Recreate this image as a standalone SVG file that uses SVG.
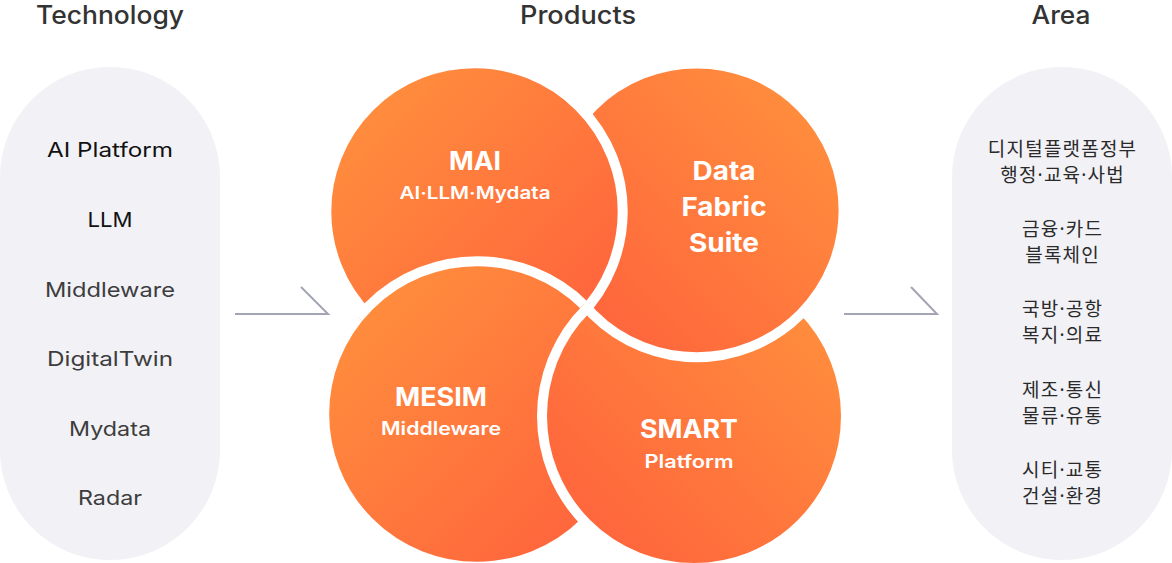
<svg xmlns="http://www.w3.org/2000/svg" xmlns:xlink="http://www.w3.org/1999/xlink" width="1172" height="563" viewBox="0 0 1172 563">
  <style>
    .hdr { font-family: Inter, "Noto Sans", "Liberation Sans", sans-serif; font-size: 25px; font-weight: 500; fill: #333333; text-anchor: middle; }
    .tech { font-family: Inter, "Noto Sans", "Liberation Sans", sans-serif; font-size: 20px; font-weight: 400; fill: #3d3d3d; text-anchor: middle; }
    .tech.dark { fill: #111111; }
    .area { font-family: "Noto Sans CJK KR", "Noto Sans", sans-serif; font-size: 19px; letter-spacing: 1.2px; font-weight: 400; fill: #2a2a2a; text-anchor: middle; }
    .dot { font-family: "Noto Sans", "Liberation Sans", sans-serif; }
    .pill { fill: #f1f1f6; }
    .petal { stroke: #ffffff; stroke-width: 10; }
    .ttl { font-family: Inter, "Noto Sans", "Liberation Sans", sans-serif; font-size: 26px; font-weight: 700; fill: #ffffff; text-anchor: middle; }
    .sub { font-family: Inter, "Noto Sans", "Liberation Sans", sans-serif; font-size: 18px; font-weight: 600; fill: #ffffff; text-anchor: middle; }
    .conn { fill: none; stroke: #a3a5b4; stroke-width: 2; }
  </style>
  <defs>
    <linearGradient id="gTL" x1="0.15" y1="0.15" x2="0.85" y2="0.85">
      <stop offset="0" stop-color="#ff8c3d"/>
      <stop offset="1" stop-color="#ff663c"/>
    </linearGradient>
    <linearGradient id="gTR" x1="0.85" y1="0.15" x2="0.15" y2="0.85">
      <stop offset="0" stop-color="#ff8c3d"/>
      <stop offset="1" stop-color="#ff663c"/>
    </linearGradient>
    <circle id="c-mesim" class="petal" cx="477" cy="414" r="152.8" fill="url(#gTL)"/>
    <clipPath id="clipMai">
      <circle cx="474.5" cy="211.5" r="157"/>
    </clipPath>
    <clipPath id="clipNotSmart">
      <path clip-rule="evenodd" d="M0 0H1172V563H0Z M537 416a157 157 0 1 0 314 0a157 157 0 1 0 -314 0Z"/>
    </clipPath>
  </defs>

  <rect width="1172" height="563" fill="#ffffff"/>

  <g id="headers">
    <text class="hdr" x="110" y="24" textLength="148" lengthAdjust="spacingAndGlyphs">Technology</text>
    <text class="hdr" x="578" y="24" textLength="116" lengthAdjust="spacingAndGlyphs">Products</text>
    <text class="hdr" x="1061" y="24" textLength="59" lengthAdjust="spacingAndGlyphs">Area</text>
  </g>

  <g id="node-technology">
    <rect class="pill" x="0" y="67" width="220" height="493" rx="110"/>
    <text class="tech dark" x="110" y="157" textLength="126" lengthAdjust="spacingAndGlyphs">AI Platform</text>
    <text class="tech dark" x="110" y="227" textLength="45" lengthAdjust="spacingAndGlyphs">LLM</text>
    <text class="tech" x="110" y="297" textLength="130" lengthAdjust="spacingAndGlyphs">Middleware</text>
    <text class="tech" x="110" y="366" textLength="126" lengthAdjust="spacingAndGlyphs">DigitalTwin</text>
    <text class="tech" x="110" y="436" textLength="82" lengthAdjust="spacingAndGlyphs">Mydata</text>
    <text class="tech" x="110" y="505" textLength="64" lengthAdjust="spacingAndGlyphs">Radar</text>
  </g>

  <g id="node-area">
    <rect class="pill" x="952" y="67" width="220" height="493" rx="110"/>
    <text class="area" x="1062.6" y="156">디지털플랫폼정부</text>
    <text class="area" x="1062.6" y="182">행정<tspan class="dot">·</tspan>교육<tspan class="dot">·</tspan>사법</text>
    <text class="area" x="1062.6" y="236">금융<tspan class="dot">·</tspan>카드</text>
    <text class="area" x="1062.6" y="262">블록체인</text>
    <text class="area" x="1062.6" y="316">국방<tspan class="dot">·</tspan>공항</text>
    <text class="area" x="1062.6" y="342">복지<tspan class="dot">·</tspan>의료</text>
    <text class="area" x="1062.6" y="397">제조<tspan class="dot">·</tspan>통신</text>
    <text class="area" x="1062.6" y="423">물류<tspan class="dot">·</tspan>유통</text>
    <text class="area" x="1062.6" y="477">시티<tspan class="dot">·</tspan>교통</text>
    <text class="area" x="1062.6" y="503">건설<tspan class="dot">·</tspan>환경</text>
  </g>

  <g id="connectors">
    <path class="conn" d="M235 314H328L301 287"/>
    <path class="conn" d="M844 314H937L911 287"/>
  </g>

  <g id="node-mesim">
    <use href="#c-mesim"/>
    <text class="ttl" x="441" y="406" textLength="92" lengthAdjust="spacingAndGlyphs">MESIM</text>
    <text class="sub" x="441" y="435" textLength="120" lengthAdjust="spacingAndGlyphs">Middleware</text>
  </g>

  <g id="node-smart">
    <circle class="petal" cx="694" cy="416" r="152" fill="url(#gTR)"/>
    <text class="ttl" x="689" y="438" textLength="98" lengthAdjust="spacingAndGlyphs">SMART</text>
    <text class="sub" x="689" y="468" textLength="89" lengthAdjust="spacingAndGlyphs">Platform</text>
  </g>

  <g id="node-datafabric">
    <circle class="petal" cx="696.7" cy="210.3" r="146.9" fill="url(#gTR)"/>
    <text class="ttl" x="724" y="180" textLength="63" lengthAdjust="spacingAndGlyphs">Data</text>
    <text class="ttl" x="724" y="216" textLength="85" lengthAdjust="spacingAndGlyphs">Fabric</text>
    <text class="ttl" x="724" y="252" textLength="70" lengthAdjust="spacingAndGlyphs">Suite</text>
  </g>

  <g id="node-mai">
    <circle class="petal" cx="474.5" cy="211.5" r="148.2" fill="url(#gTL)"/>
    <text class="ttl" x="475" y="170" textLength="52" lengthAdjust="spacingAndGlyphs">MAI</text>
    <text class="sub" x="475" y="199" style="font-size:17px" textLength="151" lengthAdjust="spacingAndGlyphs">AI·LLM·Mydata</text>
  </g>

  <g id="mesim-overlap" clip-path="url(#clipMai)">
    <g clip-path="url(#clipNotSmart)">
      <use href="#c-mesim"/>
    </g>
  </g>
</svg>
